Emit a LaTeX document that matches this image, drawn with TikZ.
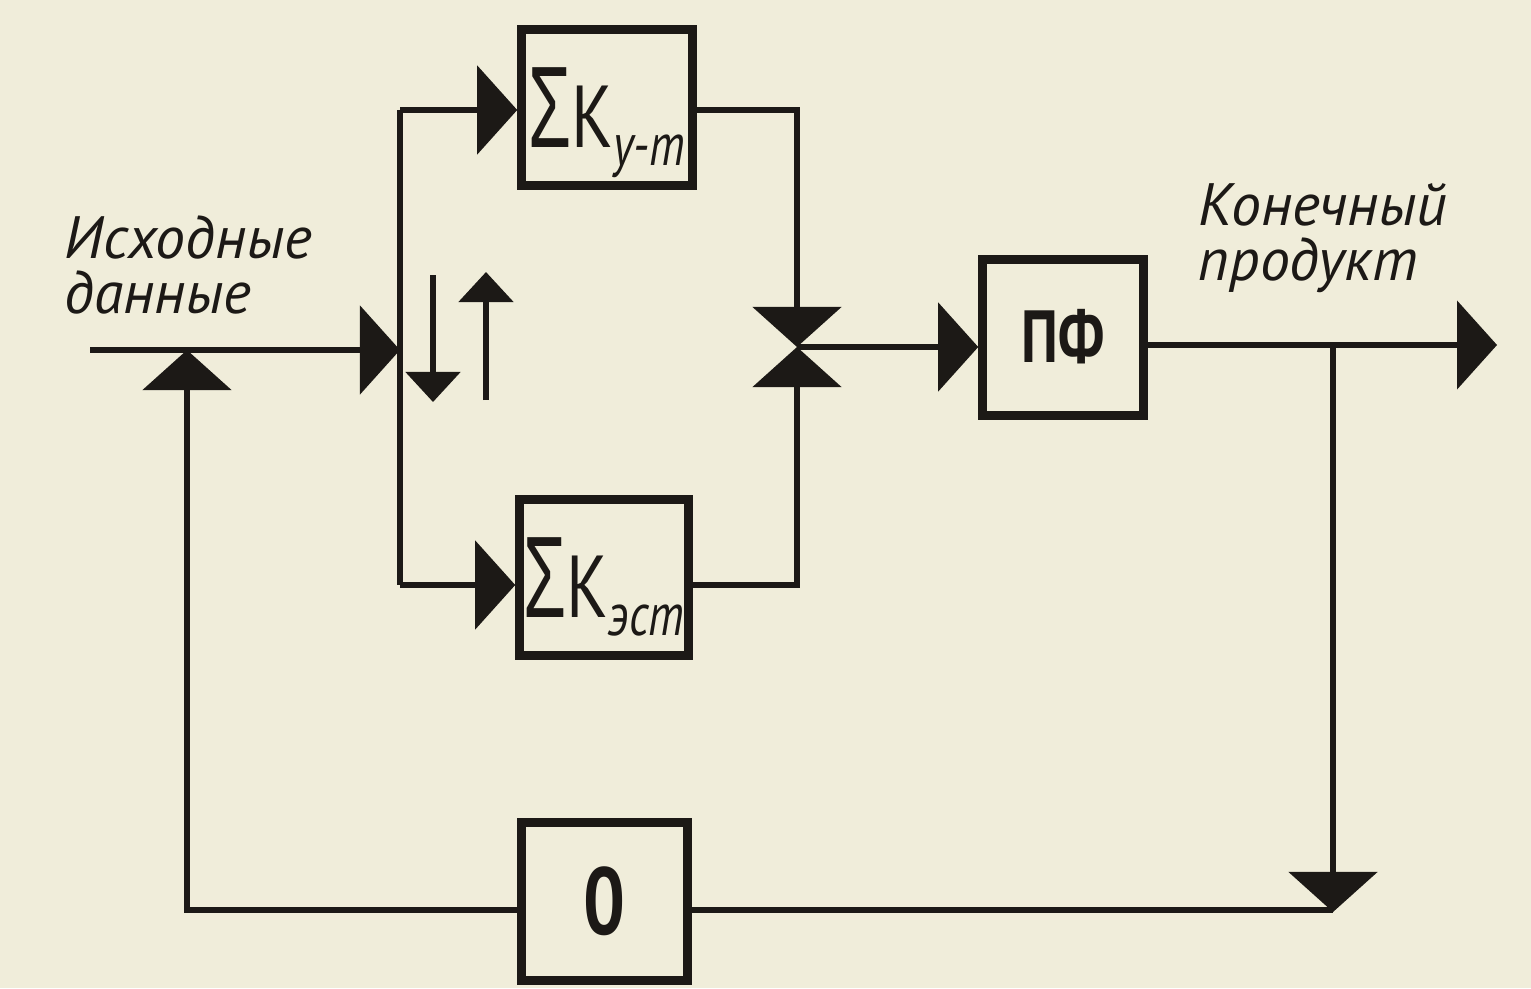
\documentclass[tikz,border=0pt]{standalone}
\usepackage{fontspec}
\setmainfont{PT Sans}
\newfontfamily\narrowfont[FakeStretch=0.78]{PT Sans}
\newfontfamily\grkfont[FakeStretch=0.6]{Liberation Sans}
\usetikzlibrary{arrows.meta,calc,positioning}
\definecolor{paper}{RGB}{240,237,218}
\definecolor{ink}{RGB}{28,25,22}
\newcommand{\sumk}[1]{{\grkfont\fontsize{33}{33}\selectfont Σ}{\narrowfont\fontsize{25}{25}\selectfont К}\raisebox{-5pt}{\narrowfont\itshape\fontsize{17}{17}\selectfont #1}}

\begin{document}
\begin{tikzpicture}[x=0.01cm,y=-0.01cm,
  blk/.style={draw=ink,line width=2.4pt,minimum height=1.56cm,inner sep=0pt,text=ink},
  sumbox/.style={blk,text height=1cm,text depth=0.2cm},
  wire/.style={draw=ink,line width=1.5pt},
  arr/.style={-{Triangle[length=4mm,width=8.8mm]}},
  sarr/.style={-{Triangle[length=3mm,width=5.4mm]}},
  lbl/.style={font=\itshape\fontsize{17}{15.5}\selectfont,text=ink,align=left}]
  \path[use as bounding box,fill=paper] (0,0) rectangle (1531,988);
  % blocks
  \node[sumbox,minimum width=1.71cm] (kut) at (607,107.5) {\sumk{у-т}};
  \node[sumbox,minimum width=1.69cm] (kest) at (604,577.5) {\sumk{эст}};
  \node[blk,minimum width=1.61cm,text height=0.6cm,text depth=0.1cm,font=\narrowfont\bfseries\fontsize{21}{21}\selectfont] (pf) at (1063,337.5) {ПФ};
  \node[blk,minimum width=1.66cm,minimum height=1.58cm,font=\narrowfont\bfseries\fontsize{27}{27}\selectfont] (obox) at (604.5,901.5) {0};
  % points on the wires
  \coordinate (in) at (90,350); \coordinate (spl) at (400,350);
  \coordinate (spT) at (400,110); \coordinate (spB) at (400,585);
  \coordinate (mgT) at (797,110); \coordinate (mgB) at (797,585); \coordinate (mg) at (797,347);
  \coordinate (br) at (1333,345); \coordinate (brB) at (1333,912); \coordinate (out) at (1497,345);
  \coordinate (fbR) at (1333,910); \coordinate (fbL) at (187,910); \coordinate (fbT) at (187,350);
  \coordinate (dA) at (433,275); \coordinate (dB) at (433,402);
  \coordinate (uA) at (486,400); \coordinate (uB) at (486,272);
  % wires
  \draw[wire,arr] (in) -- (spl);
  \draw[wire] (spT) -- (spB);
  \draw[wire,arr] (spT) -- (spT -| kut.west);
  \draw[wire,arr] (spB) -- (spB -| kest.west);
  \draw[wire,arr] (mgT -| kut.east) -- (mgT) -- (mg);
  \draw[wire,arr] (mgB -| kest.east) -- (mgB) -- (mg);
  \draw[wire,arr] (mg) -- (mg -| pf.west);
  \draw[wire,arr] (out -| pf.east) -- (out);
  \draw[wire,arr] (br) -- (brB);
  \draw[wire] (fbR) -- (fbR -| obox.east);
  \draw[wire,arr] (fbL -| obox.west) -- (fbL) -- (fbT);
  \draw[wire,sarr] (dA) -- (dB);
  \draw[wire,sarr] (uA) -- (uB);
  % labels
  \node[lbl,anchor=west] (src) at (52,265) {Исходные\\данные};
  \node[lbl,anchor=west] (prod) at (1186,238) {Конечный\\продукт};
\end{tikzpicture}
\end{document}
